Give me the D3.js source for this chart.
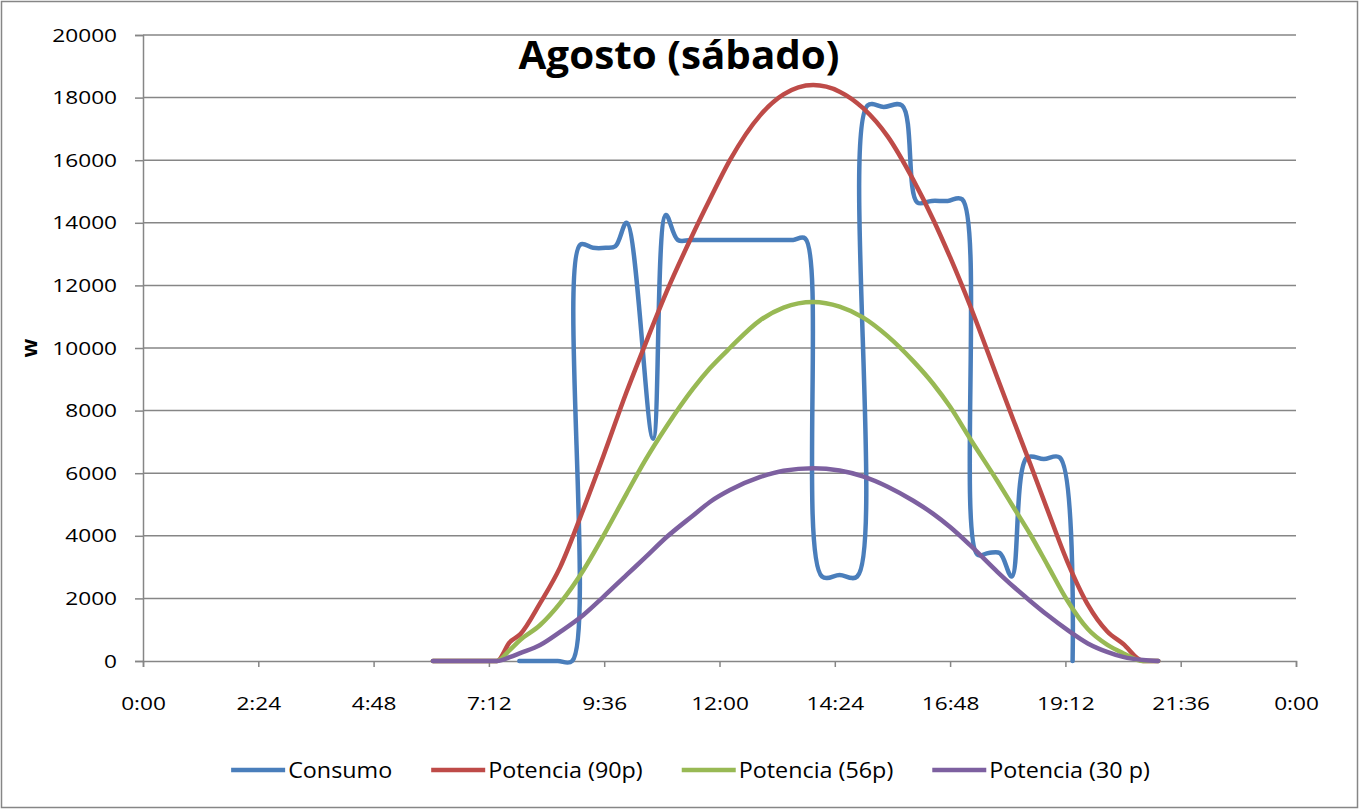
<!DOCTYPE html>
<html>
<head>
<meta charset="utf-8">
<script src="https://cdn.jsdelivr.net/npm/d3@7"></script>
<style>
  body { margin: 0; background: #fff; }
  text { font-family: "Open Sans", sans-serif; fill: #000; }
</style>
</head>
<body>
<div id="chart"></div>
<script>
// data (time in minutes since 0:00, power in W)
var seriesNames = ["Consumo", "Potencia (90p)", "Potencia (56p)", "Potencia (30 p)"];
var colors = ["#4a7ebb", "#be4b48", "#98b954", "#7d60a0"];

var consumoTimes = [470, 494, 518, 536, 546, 562, 578, 590, 604, 637, 653, 668, 684, 700, 716,
  732, 748, 764, 780, 796, 812, 827, 848, 870, 892, 905, 925, 948, 967, 985, 1005, 1023,
  1042, 1056, 1070, 1085, 1104, 1125, 1145, 1161];
var consumo = [0, 0, 0, 0, 13300, 13200, 13200, 13250, 14000, 7100, 14250, 13450, 13450, 13450, 13450,
  13450, 13450, 13450, 13450, 13450, 13450, 13500, 2700, 2750, 2700, 17750, 17700, 17750, 14650, 14700, 14700, 14750,
  3400, 3450, 3450, 2700, 6500, 6450, 6500, 0];

var potTimes = [362, 400, 442, 458, 471, 496, 521, 550, 575, 604, 627, 654, 687, 708, 733, 771,
  800, 837, 870, 899, 930, 962, 987, 1008, 1033, 1067, 1087, 1108, 1130, 1154, 1180, 1204, 1224, 1249, 1268];
var pot90 = [0, 0, 0, 600, 850, 1850, 3000, 4850, 6550, 8600, 10100, 11800, 13650, 14750, 16000, 17440,
  18100, 18400, 18190, 17670, 16760, 15370, 14100, 12900, 11350, 9050, 7700, 6300, 4800, 3200, 1800, 950, 550, 0, 0];
var pot56 = [0, 0, 0, 350, 670, 1150, 1850, 2900, 4000, 5350, 6400, 7500, 8700, 9350, 10000, 10890,
  11290, 11470, 11320, 10980, 10380, 9580, 8850, 8120, 7100, 5750, 4920, 4050, 3050, 1950, 1020, 520, 250, 0, 0];
var pot30 = [0, 0, 0, 120, 250, 510, 930, 1470, 2050, 2750, 3300, 3960, 4650, 5080, 5460, 5880,
  6080, 6160, 6085, 5900, 5570, 5120, 4700, 4280, 3700, 2850, 2380, 1920, 1460, 1000, 560, 290, 130, 30, 0];

var xTicks = d3.range(0, 1441, 144);
var yTicks = d3.range(0, 20001, 2000);

var W = 1359, H = 809;
var margin = {left: 143, right: 63, top: 35, bottom: 148};

var svg = d3.select("#chart").append("svg")
  .attr("width", W).attr("height", H);

// outer chart frame
svg.append("rect")
  .attr("x", 1.5).attr("y", 1.5)
  .attr("width", W - 3).attr("height", H - 3)
  .attr("fill", "#fff").attr("stroke", "#868686").attr("stroke-width", 1.5);

var x = d3.scaleLinear().domain([0, 1440]).range([margin.left, W - margin.right]);
var y = d3.scaleLinear().domain([0, 20000]).range([H - margin.bottom, margin.top]);

function fmtTime(m) {
  var h = Math.floor(m / 60) % 24, mm = m % 60;
  return h + ":" + (mm < 10 ? "0" : "") + mm;
}

// stretch text horizontally (reference text is wider than the installed fonts)
function stretch(sel, k) {
  sel.each(function() {
    var len = this.getComputedTextLength();
    d3.select(this).attr("textLength", len * k).attr("lengthAdjust", "spacingAndGlyphs");
  });
}

// gridlines
svg.append("g").selectAll("line")
  .data(yTicks.slice(1))
  .enter().append("line")
  .attr("x1", x(0)).attr("x2", x(1440))
  .attr("y1", function(d) { return y(d); })
  .attr("y2", function(d) { return y(d); })
  .attr("stroke", "#868686").attr("stroke-width", 1.5);

// y axis
var yAxis = svg.append("g")
  .attr("transform", "translate(" + x(0) + ",0)")
  .call(d3.axisLeft(y).tickValues(yTicks).tickSize(8).tickPadding(18).tickFormat(d3.format("d")));
yAxis.selectAll("path, line").attr("stroke", "#868686").attr("stroke-width", 1.5);
yAxis.selectAll("text").style("font-size", "19px").style("font-family", "Open Sans").attr("fill", "#000");
stretch(yAxis.selectAll("text"), 1.19);

// x axis
var xAxis = svg.append("g")
  .attr("transform", "translate(0," + y(0) + ")")
  .call(d3.axisBottom(x).tickValues(xTicks).tickSize(6).tickPadding(30).tickFormat(fmtTime));
xAxis.selectAll("path, line").attr("stroke", "#868686").attr("stroke-width", 1.5);
xAxis.selectAll("text").style("font-size", "19px").style("font-family", "Open Sans").attr("fill", "#000");
stretch(xAxis.selectAll("text"), 1.19);

// y axis title
svg.append("text")
  .attr("transform", "translate(37," + y(10000) + ") rotate(-90)")
  .attr("text-anchor", "middle")
  .style("font-size", "22px").style("font-weight", "bold")
  .text("w");

// lines
var consumoLine = d3.line()
  .x(function(d) { return x(d[0]); })
  .y(function(d) { return y(d[1]); })
  .curve(d3.curveCatmullRom.alpha(0.5));

var potLine = d3.line()
  .x(function(d) { return x(d[0]); })
  .y(function(d) { return y(d[1]); })
  .curve(d3.curveMonotoneX);

var lineData = [
  d3.zip(consumoTimes, consumo),
  d3.zip(potTimes, pot90),
  d3.zip(potTimes, pot56),
  d3.zip(potTimes, pot30)
];

svg.append("g").selectAll("path")
  .data(lineData)
  .enter().append("path")
  .attr("d", function(d, i) { return i === 0 ? consumoLine(d) : potLine(d); })
  .attr("fill", "none")
  .attr("stroke", function(d, i) { return colors[i]; })
  .attr("stroke-width", 4.5)
  .attr("stroke-linejoin", "round")
  .attr("stroke-linecap", "round");

// title
var title = svg.append("text")
  .attr("x", 679).attr("y", 69)
  .attr("text-anchor", "middle")
  .style("font-size", "40px").style("font-weight", "bold")
  .text("Agosto (sábado)");
title.attr("textLength", 321).attr("lengthAdjust", "spacingAndGlyphs");

// legend
var legend = svg.append("g");
var items = legend.selectAll("g")
  .data(seriesNames)
  .enter().append("g");
items.append("line")
  .attr("x1", 0).attr("x2", 54)
  .attr("y1", 0).attr("y2", 0)
  .attr("stroke", function(d, i) { return colors[i]; })
  .attr("stroke-width", 4.5);
items.append("text")
  .attr("x", 57).attr("y", 8)
  .style("font-size", "22px")
  .text(function(d) { return d; });
stretch(items.selectAll("text"), 1.06);

var widths = [];
items.each(function() { widths.push(this.getBBox().width); });
var gap = 39;
var total = d3.sum(widths) + gap * (widths.length - 1);
var pos = 690.5 - total / 2;
items.attr("transform", function(d, i) {
  var t = "translate(" + pos + ",770)";
  pos += widths[i] + gap;
  return t;
});
</script>
</body>
</html>
